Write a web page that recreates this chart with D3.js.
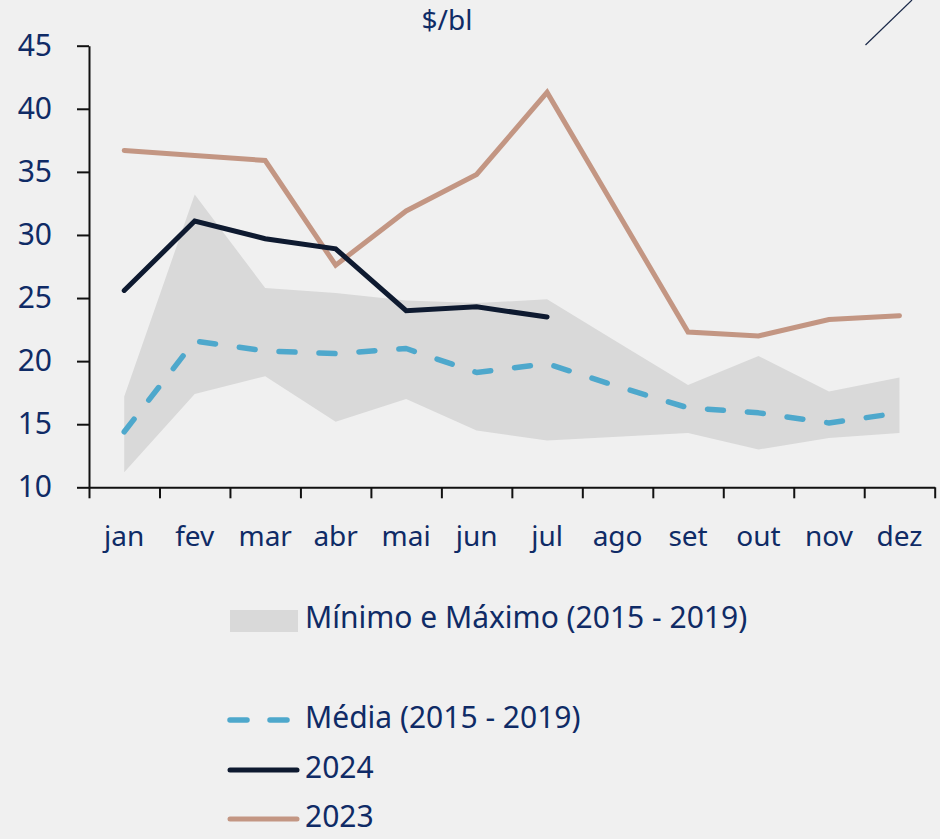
<!DOCTYPE html>
<html>
<head>
<meta charset="utf-8">
<script src="https://cdn.jsdelivr.net/npm/d3@7"></script>
<style>
  html, body { margin: 0; padding: 0; background: #f0f0f0; }
  svg { display: block; font-family: "Noto Sans", sans-serif; }
</style>
</head>
<body>
<svg id="chart" width="940" height="839"></svg>
<script>
// Months and monthly series ($/bl)
const months = ["jan","fev","mar","abr","mai","jun","jul","ago","set","out","nov","dez"];
const bandMin = [11.2, 17.4, 18.8, 15.2, 17.0, 14.5, 13.7, 14.0, 14.3, 13.0, 13.9, 14.3];
const bandMax = [17.2, 33.2, 25.8, 25.4, 24.8, 24.6, 24.9, 21.5, 18.1, 20.4, 17.6, 18.7];
const mean1519 = [14.4, 21.6, 20.8, 20.6, 21.0, 19.1, 19.8, 18.0, 16.3, 15.9, 15.1, 15.9];
const y2024 = [25.6, 31.1, 29.7, 28.9, 24.0, 24.3, 23.5];
const y2023 = [36.7, 36.3, 35.9, 27.6, 31.9, 34.8, 41.3, 31.8, 22.3, 22.0, 23.3, 23.6];
const yTicks = [10, 15, 20, 25, 30, 35, 40, 45];
const unitLabel = "$/bl";
const legendLabels = ["Mínimo e Máximo (2015 - 2019)", "Média (2015 - 2019)", "2024", "2023"];

const colors = {
  band: "#d9d9d9",
  mean: "#4ea8cc",
  y2024: "#0e1a30",
  y2023: "#c39683",
  text: "#0f2b66",
  axis: "#111111"
};

const svg = d3.select("#chart");

const x = d3.scaleBand().domain(months).range([89, 934.7]).padding(0);
const xBound = d3.scaleLinear().domain([0, months.length]).range([89, 934.7]);
const y = d3.scaleLinear().domain([10, 45]).range([487.3, 45.7]);
const cx = m => x(m) + x.bandwidth() / 2;

// Min–max range band
const area = d3.area()
  .x((d, i) => cx(months[i]))
  .y0((d, i) => y(bandMin[i]))
  .y1((d, i) => y(bandMax[i]));
svg.append("path")
  .datum(bandMax)
  .attr("d", area)
  .attr("fill", colors.band);

const line = d3.line().x((d, i) => cx(months[i])).y(d => y(d));

// Average 2015–2019 (dashed)
svg.append("path")
  .datum(mean1519)
  .attr("d", line)
  .attr("fill", "none")
  .attr("stroke", colors.mean)
  .attr("stroke-width", 5.5)
  .attr("stroke-dasharray", "16,24")
  .attr("stroke-linecap", "round")
  .attr("stroke-linejoin", "round");

// 2023
svg.append("path")
  .datum(y2023)
  .attr("d", line)
  .attr("fill", "none")
  .attr("stroke", colors.y2023)
  .attr("stroke-width", 5)
  .attr("stroke-linecap", "round")
  .attr("stroke-linejoin", "miter");

// 2024
svg.append("path")
  .datum(y2024)
  .attr("d", line)
  .attr("fill", "none")
  .attr("stroke", colors.y2024)
  .attr("stroke-width", 5)
  .attr("stroke-linecap", "round")
  .attr("stroke-linejoin", "miter");

// Y axis
const yAxis = svg.append("g")
  .attr("transform", "translate(89,0)")
  .call(d3.axisLeft(y).tickValues(yTicks).tickSize(12).tickSizeOuter(0).tickPadding(25).tickFormat(d3.format("d")));
yAxis.select(".domain").attr("stroke", colors.axis).attr("stroke-width", 2);
yAxis.selectAll(".tick line").attr("stroke", colors.axis).attr("stroke-width", 2);
yAxis.selectAll(".tick text")
  .attr("fill", colors.text)
  .style("font-size", "30px")
  .style("font-family", "'Noto Sans', sans-serif");

// X axis: boundary ticks
const xTicks = svg.append("g")
  .attr("transform", "translate(0,487.3)")
  .call(d3.axisBottom(xBound).tickValues(d3.range(months.length + 1)).tickSize(11).tickSizeOuter(0).tickFormat(""));
xTicks.select(".domain").attr("stroke", colors.axis).attr("stroke-width", 2);
xTicks.selectAll(".tick line").attr("stroke", colors.axis).attr("stroke-width", 2);

// X axis: month labels at band centres
const xLabels = svg.append("g")
  .attr("transform", "translate(0,487.3)")
  .call(d3.axisBottom(x).tickSize(0).tickPadding(0));
xLabels.select(".domain").remove();
xLabels.selectAll(".tick text")
  .attr("y", 59)
  .attr("dy", 0)
  .attr("fill", colors.text)
  .style("font-size", "28px")
  .style("font-family", "'Noto Sans', sans-serif");

// Unit label
svg.append("text")
  .attr("x", 447)
  .attr("y", 30)
  .attr("text-anchor", "middle")
  .attr("fill", colors.text)
  .style("font-size", "28px")
  .text(unitLabel);

// Small diagonal stroke at top right
svg.append("line")
  .attr("x1", 865.5).attr("y1", 45)
  .attr("x2", 912).attr("y2", 0)
  .attr("stroke", "#1b2a4a")
  .attr("stroke-width", 1.2);

// Legend
const legend = svg.append("g");
const legText = (yy, t) => legend.append("text")
  .attr("x", 305).attr("y", yy)
  .attr("fill", colors.text)
  .style("font-size", "30px")
  .text(t);

legend.append("rect")
  .attr("x", 230).attr("y", 610).attr("width", 68).attr("height", 22)
  .attr("fill", colors.band);
legText(628, legendLabels[0]);

legend.append("line")
  .attr("x1", 230).attr("x2", 292).attr("y1", 720).attr("y2", 720)
  .attr("stroke", colors.mean).attr("stroke-width", 5.5)
  .attr("stroke-dasharray", "17,23").attr("stroke-linecap", "round");
legText(728, legendLabels[1]);

legend.append("line")
  .attr("x1", 230).attr("x2", 297).attr("y1", 770).attr("y2", 770)
  .attr("stroke", colors.y2024).attr("stroke-width", 5).attr("stroke-linecap", "round");
legText(778, legendLabels[2]);

legend.append("line")
  .attr("x1", 230).attr("x2", 297).attr("y1", 819).attr("y2", 819)
  .attr("stroke", colors.y2023).attr("stroke-width", 5).attr("stroke-linecap", "round");
legText(827, legendLabels[3]);
</script>
</body>
</html>
